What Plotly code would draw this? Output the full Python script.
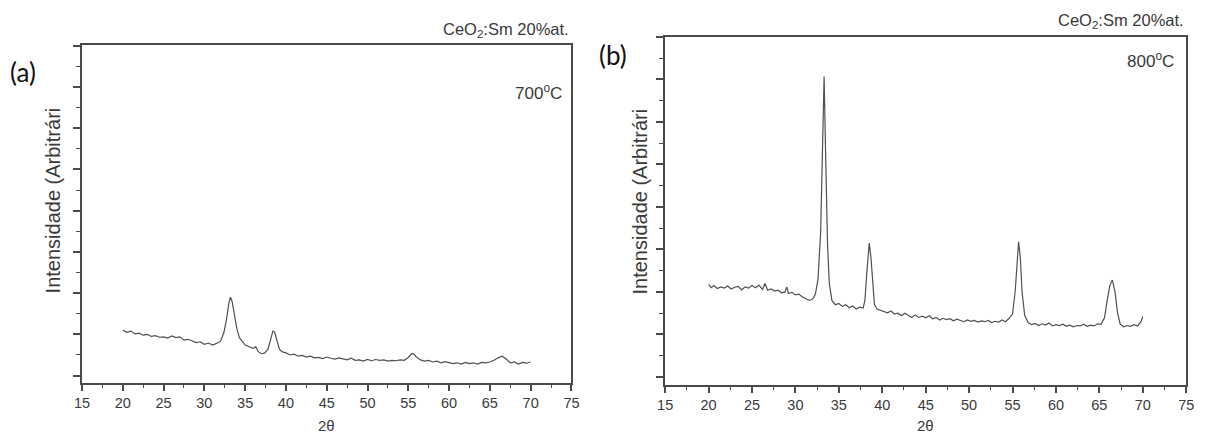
import plotly.graph_objects as go

# ---- data ----
tt_700 = [20.0,20.5,21.0,21.5,22.0,22.5,23.0,23.5,24.0,24.5,25.0,25.5,26.0,26.5,27.0,27.5,28.0,28.5,29.0,29.5,
          30.0,30.5,31.0,31.5,32.0,32.4,32.7,33.0,33.2,33.4,33.7,34.0,34.3,34.7,35.0,35.5,36.0,36.3,36.6,37.0,
          37.4,37.8,38.1,38.4,38.6,38.9,39.2,39.5,40.0,40.5,41.0,41.5,42.0,42.5,43.0,43.5,44.0,44.5,45.0,45.5,
          46.0,46.5,47.0,47.5,48.0,48.5,49.0,49.5,50.0,50.5,51.0,51.5,52.0,52.5,53.0,53.5,54.0,54.5,55.0,55.4,
          55.7,56.0,56.5,57.0,57.5,58.0,58.5,59.0,59.5,60.0,60.5,61.0,61.5,62.0,62.5,63.0,63.5,64.0,64.5,65.0,
          65.5,66.0,66.5,67.0,67.5,68.0,68.5,69.0,69.5,70.0]
int_700 = [1.10,1.05,1.08,1.01,1.03,0.98,1.00,0.95,0.97,0.93,0.94,0.91,0.96,0.92,0.94,0.86,0.88,0.83,0.80,0.82,
           0.76,0.79,0.74,0.78,0.84,1.05,1.35,1.75,1.90,1.80,1.45,1.12,0.92,0.80,0.74,0.70,0.66,0.70,0.58,0.53,
           0.55,0.64,0.86,1.08,1.06,0.82,0.64,0.58,0.55,0.50,0.52,0.47,0.49,0.45,0.47,0.43,0.44,0.41,0.45,0.42,
           0.40,0.43,0.40,0.38,0.42,0.37,0.38,0.35,0.39,0.36,0.39,0.37,0.38,0.35,0.37,0.36,0.38,0.37,0.44,0.53,
           0.52,0.45,0.38,0.35,0.37,0.33,0.35,0.31,0.34,0.32,0.29,0.31,0.28,0.32,0.29,0.31,0.28,0.32,0.31,0.33,
           0.37,0.43,0.47,0.40,0.31,0.33,0.28,0.32,0.30,0.33]

tt_800 = [20.0,20.3,20.6,21.0,21.4,21.8,22.2,22.6,23.0,23.4,23.8,24.2,24.6,25.0,25.4,25.8,26.2,26.5,26.8,27.2,
          27.6,28.0,28.4,28.8,29.0,29.2,29.6,30.0,30.4,30.8,31.2,31.6,32.0,32.3,32.6,32.9,33.1,33.3,33.5,33.7,
          33.9,34.2,34.6,35.0,35.4,35.8,36.2,36.6,37.0,37.4,37.8,38.0,38.2,38.4,38.5,38.7,38.9,39.1,39.4,39.8,
          40.2,40.6,41.0,41.4,41.8,42.2,42.6,43.0,43.4,43.8,44.2,44.6,45.0,45.4,45.8,46.2,46.6,47.0,47.4,47.8,
          48.2,48.6,49.0,49.4,49.8,50.2,50.6,51.0,51.4,51.8,52.2,52.6,53.0,53.4,53.8,54.2,54.6,55.0,55.3,55.5,
          55.7,55.9,56.1,56.4,56.8,57.2,57.6,58.0,58.4,58.8,59.2,59.6,60.0,60.4,60.8,61.2,61.6,62.0,62.4,62.8,
          63.2,63.6,64.0,64.4,64.8,65.2,65.6,65.9,66.2,66.5,66.8,67.1,67.4,67.8,68.2,68.6,69.0,69.4,69.8,70.0]
int_800 = [2.18,2.10,2.15,2.08,2.12,2.09,2.14,2.07,2.11,2.13,2.05,2.12,2.09,2.15,2.10,2.16,2.06,2.20,2.04,2.07,
           2.02,2.04,1.98,2.00,2.12,1.97,1.99,1.93,1.95,1.88,1.84,1.80,1.84,1.95,2.30,3.40,5.20,7.07,5.00,3.10,
           2.20,1.80,1.70,1.73,1.66,1.70,1.63,1.67,1.60,1.64,1.62,1.80,2.40,3.00,3.15,2.80,2.10,1.70,1.60,1.57,
           1.54,1.51,1.55,1.48,1.50,1.44,1.50,1.45,1.40,1.46,1.40,1.43,1.39,1.44,1.37,1.40,1.34,1.38,1.35,1.37,
           1.32,1.36,1.33,1.30,1.34,1.31,1.33,1.29,1.32,1.30,1.33,1.28,1.31,1.29,1.34,1.30,1.38,1.48,2.00,2.70,
           3.18,2.80,2.00,1.45,1.28,1.23,1.26,1.21,1.25,1.22,1.27,1.20,1.23,1.21,1.24,1.19,1.22,1.18,1.21,1.20,
           1.24,1.19,1.22,1.20,1.25,1.24,1.40,1.80,2.15,2.28,2.00,1.50,1.24,1.18,1.21,1.19,1.23,1.20,1.30,1.42]

x_tick_vals = [15, 20, 25, 30, 35, 40, 45, 50, 55, 60, 65, 70, 75]
panel_labels = ["(a)", "(b)"]
temps = ["700<sup>o</sup>C", "800<sup>o</sup>C"]
sample_title = "CeO<sub>2</sub>:Sm 20%at."
y_title = "Intensidade (Arbitrári"
x_title = "2θ"

W, H = 1209, 434
def px(x): return x / W
def py(y): return 1 - y / H

LINE = "#4a4a4a"
TXT = "#3a3a3a"
FONT = "Liberation Sans, Arial, sans-serif"

fig = go.Figure()
fig.add_trace(go.Scatter(x=tt_700, y=int_700, mode="lines", line=dict(color="#505050", width=1.2),
                         xaxis="x", yaxis="y", showlegend=False))
fig.add_trace(go.Scatter(x=tt_800, y=int_800, mode="lines", line=dict(color="#505050", width=1.2),
                         xaxis="x2", yaxis="y2", showlegend=False))

def xax(domain, anchor):
    return dict(domain=domain, anchor=anchor, range=[15, 75], tickmode="array", tickvals=x_tick_vals,
                ticks="outside", ticklen=6, tickwidth=1.6, tickcolor=LINE,
                showline=True, linecolor=LINE, linewidth=1.8, mirror=True,
                showgrid=False, zeroline=False,
                tickfont=dict(family=FONT, size=14.5, color=TXT),
                minor=dict(dtick=2.5, tick0=15, ticks="outside", ticklen=3, tickcolor=LINE, tickwidth=1.3, showgrid=False))

def yax(domain, anchor, rng):
    return dict(domain=domain, anchor=anchor, range=rng, dtick=1, tick0=0,
                ticks="outside", ticklen=7, tickwidth=1.6, tickcolor=LINE, showticklabels=False,
                showline=True, linecolor=LINE, linewidth=1.8, mirror=True,
                showgrid=False, zeroline=False,
                minor=dict(dtick=0.5, tick0=0, ticks="outside", ticklen=4, tickcolor=LINE, tickwidth=1.3, showgrid=False))

fig.update_layout(
    width=W, height=H, margin=dict(l=0, r=0, t=0, b=0),
    paper_bgcolor="white", plot_bgcolor="white",
    xaxis=xax([px(75), px(571)], "y"),
    yaxis=yax([py(383), py(45)], "x", [-0.18, 8.02]),
    xaxis2=xax([px(666), px(1194)], "y2"),
    yaxis2=yax([py(385), py(37)], "x2", [-0.19, 8.0]),
)

ann = []
# panel a texts
ann.append(dict(text=sample_title, x=px(571), y=py(30), xanchor="right", yanchor="middle",
                font=dict(family=FONT, size=16.5, color=TXT)))
ann.append(dict(text=temps[0], x=px(563), y=py(92), xanchor="right", yanchor="middle",
                font=dict(family=FONT, size=17, color=TXT)))
ann.append(dict(text=panel_labels[0], x=px(0), y=py(72), xanchor="left", yanchor="middle",
                font=dict(family="Lato, Open Sans, sans-serif", size=26, color="#111111")))
ann.append(dict(text=y_title, x=px(46), y=py(200), xanchor="center", yanchor="middle", textangle=-90,
                font=dict(family=FONT, size=20, color=TXT)))
ann.append(dict(text=x_title, x=px(323), y=py(425), xanchor="center", yanchor="middle",
                font=dict(family=FONT, size=15, color=TXT)))
# panel b texts
ann.append(dict(text=sample_title, x=px(1194), y=py(21), xanchor="right", yanchor="middle",
                font=dict(family=FONT, size=16.5, color=TXT)))
ann.append(dict(text=temps[1], x=px(1184), y=py(60), xanchor="right", yanchor="middle",
                font=dict(family=FONT, size=17, color=TXT)))
ann.append(dict(text=panel_labels[1], x=px(597), y=py(55), xanchor="left", yanchor="middle",
                font=dict(family="Lato, Open Sans, sans-serif", size=26, color="#111111")))
ann.append(dict(text=y_title, x=px(640), y=py(202), xanchor="center", yanchor="middle", textangle=-90,
                font=dict(family=FONT, size=20, color=TXT)))
ann.append(dict(text=x_title, x=px(930), y=py(425), xanchor="center", yanchor="middle",
                font=dict(family=FONT, size=15, color=TXT)))

for a in ann:
    a.update(xref="paper", yref="paper", showarrow=False)
fig.update_layout(annotations=ann)

fig.write_html("out.html", config={"displayModeBar": False},
               post_script="document.body.style.margin='0px';document.body.style.overflow='hidden';")
